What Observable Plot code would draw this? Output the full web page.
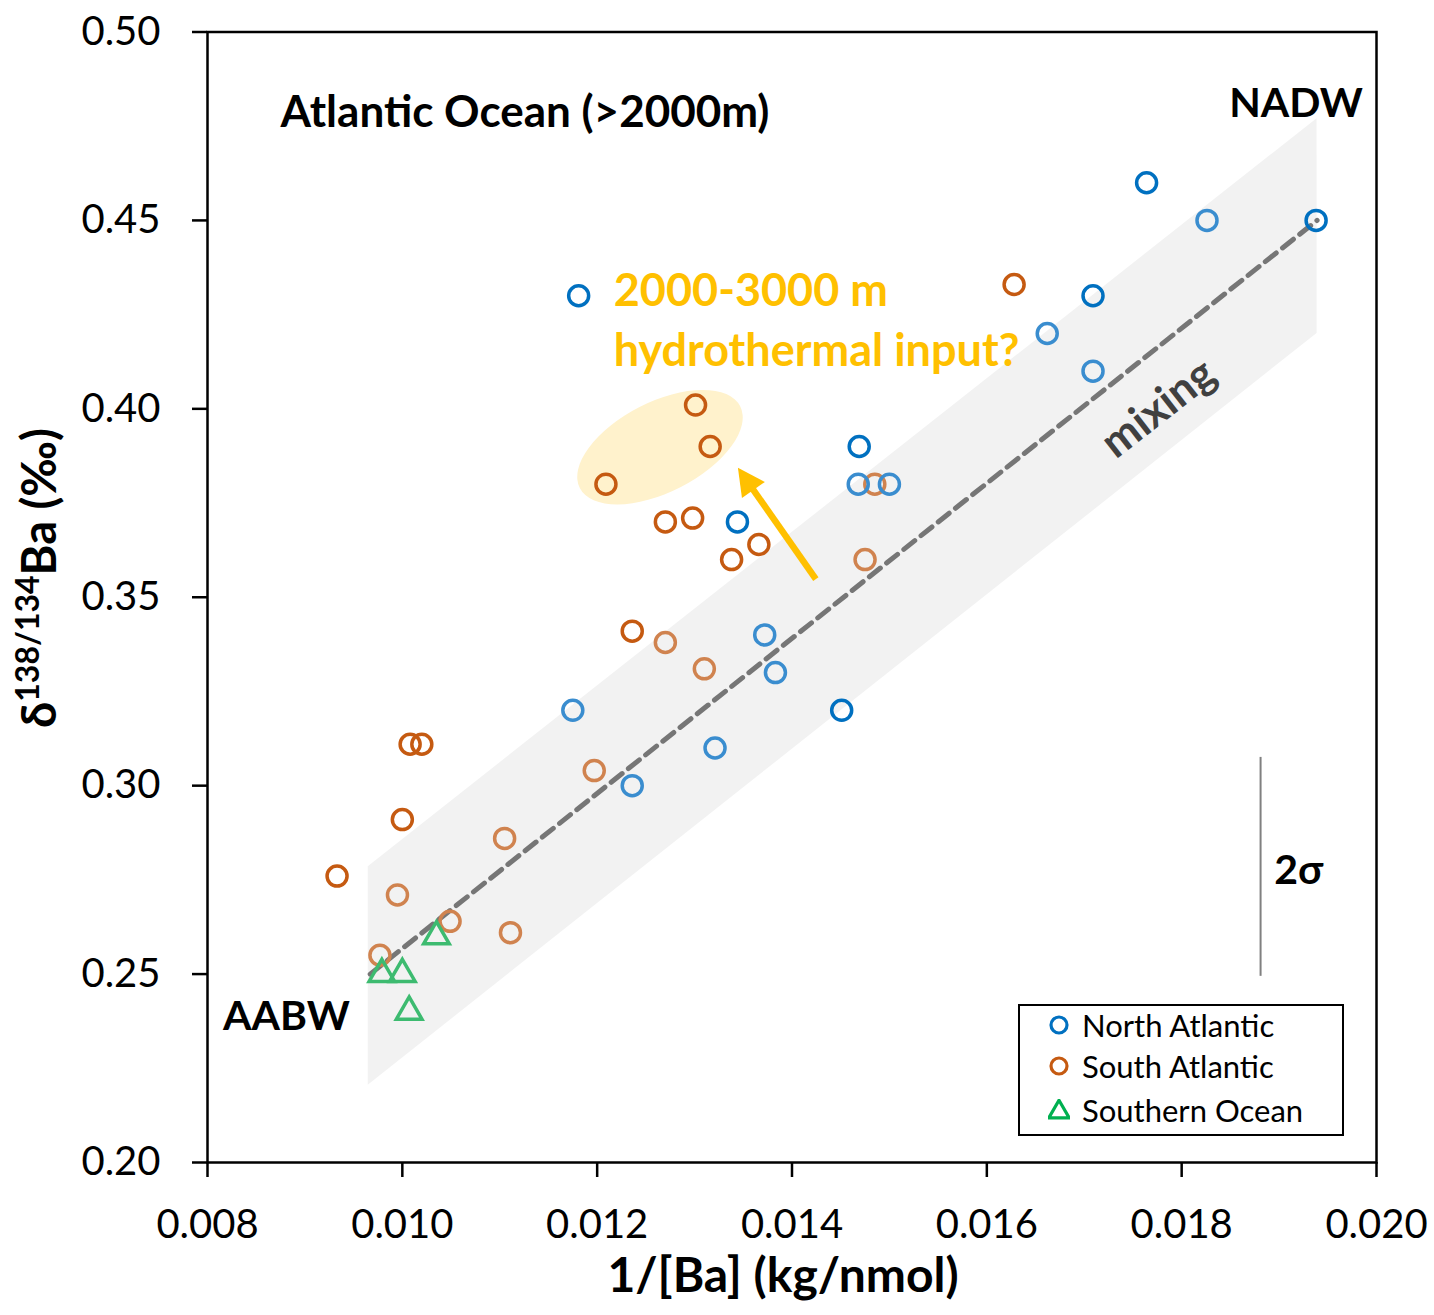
<!DOCTYPE html>
<html><head><meta charset="utf-8">
<script src="https://cdn.jsdelivr.net/npm/d3@7"></script>
<script src="https://cdn.jsdelivr.net/npm/@observablehq/plot@0.6"></script>
<style>
body{margin:0;background:#fff;font-family:Lato,sans-serif}
#wrap{position:relative;width:1434px;height:1315px}
#legend{position:absolute;left:1018px;top:1004px;width:326px;height:132px;border:2px solid #000;background:#fff;box-sizing:border-box;font:31px Lato,sans-serif;color:#000}
#legend .row{position:absolute;left:28px;height:40px;display:flex;align-items:center}
#legend svg{margin-right:12px}
</style></head><body><div id="wrap"></div>
<script>
// North Atlantic
const naX=[0.01764,0.01826,0.01938,0.01709,0.01662,0.01709,0.01181,0.01469,0.01468,0.01500,0.01344,0.01372,0.01383,0.01451,0.01175,0.01321,0.01236];
const naY=[0.460,0.450,0.450,0.430,0.420,0.410,0.430,0.390,0.380,0.380,0.370,0.340,0.330,0.320,0.320,0.310,0.300];
const naTone=["dark","light","dark","dark","light","light","dark","dark","light","light","dark","light","light","dark","light","light","light"];
// South Atlantic
const saX=[0.01628,0.01301,0.01316,0.01209,0.01270,0.01298,0.01366,0.01338,0.01485,0.01475,0.01236,0.01270,0.01310,0.01008,0.01020,0.01197,0.01000,0.01105,0.00933,0.00995,0.01049,0.01111,0.00977];
const saY=[0.433,0.401,0.390,0.380,0.370,0.371,0.364,0.360,0.380,0.360,0.341,0.338,0.331,0.311,0.311,0.304,0.291,0.286,0.276,0.271,0.264,0.261,0.255];
const saTone=["dark","dark","dark","dark","dark","dark","dark","dark","light","light","dark","light","light","dark","dark","light","dark","light","dark","light","light","light","light"];
// Southern Ocean
const soX=[0.00979,0.01000,0.01035,0.01007];
const soY=[0.250,0.250,0.260,0.240];
// mixing line and band
const mixX=[0.00967,0.01939];
const mixY=[0.250,0.450];
const bandX=[0.00965,0.01939];
const bandHi=[0.2785,0.477];
const bandLo=[0.2205,0.420];
// 2 sigma bar
const sigX=[0.01881];
const sigLo=[0.2494];
const sigHi=[0.3075];
// hydrothermal arrow and ellipse
const arrowTail=[0.01425,0.3547];
const arrowTip=[0.01345,0.3842];
const hydroCenter=[0.01265,0.3897];
// ticks
const xTicks=[0.008,0.010,0.012,0.014,0.016,0.018,0.020];
const yTicks=[0.20,0.25,0.30,0.35,0.40,0.45,0.50];
// annotations
const titleNote=[{x:0.00875,y:0.4786,text:"Atlantic Ocean (>2000m)"}];
const endNotes=[{x:0.01986,y:0.4810,text:"NADW"}];
const startNotes=[{x:0.00816,y:0.2387,text:"AABW"},{x:0.01895,y:0.2775,text:"2σ"}];
const hydroNotes=[{x:0.01217,y:0.4311,text:"2000-3000 m"},{x:0.01217,y:0.4152,text:"hydrothermal input?"}];
const mixLabel=[{x:0.017762,y:0.4001,text:"mixing"}];

const na=naX.map((x,i)=>({x,y:naY[i],tone:naTone[i]}));
const sa=saX.map((x,i)=>({x,y:saY[i],tone:saTone[i]}));
const so=soX.map((x,i)=>({x,y:soY[i]}));
const mix=mixX.map((x,i)=>({x,y:mixY[i]}));
const band=bandX.map((x,i)=>({x,lo:bandLo[i],hi:bandHi[i]}));
const sig=sigX.map((x,i)=>({x,lo:sigLo[i],hi:sigHi[i]}));

function hydroEllipse(index, scales){
  const cx=scales.x(hydroCenter[0]), cy=scales.y(hydroCenter[1]);
  return d3.create("svg:ellipse").attr("cx",cx).attr("cy",cy).attr("rx",90).attr("ry",45)
    .attr("transform",`rotate(-27 ${cx} ${cy})`).attr("fill","#FFF2CC").node();
}
function hydroArrow(index, scales){
  const x1=scales.x(arrowTail[0]), y1=scales.y(arrowTail[1]);
  const x2=scales.x(arrowTip[0]), y2=scales.y(arrowTip[1]);
  const dx=x2-x1, dy=y2-y1, L=Math.hypot(dx,dy), ux=dx/L, uy=dy/L;
  const hl=27, hw=14;
  const bx=x2-ux*hl, by=y2-uy*hl;
  const g=d3.create("svg:g");
  g.append("line").attr("x1",x1).attr("y1",y1).attr("x2",bx+ux*2).attr("y2",by+uy*2)
    .attr("stroke","#FFC000").attr("stroke-width",6.5);
  g.append("path").attr("d",`M${x2},${y2}L${bx-uy*hw},${by+ux*hw}L${bx+uy*hw},${by-ux*hw}Z`).attr("fill","#FFC000");
  return g.node();
}

const naColor=d=>d.tone==="dark"?"#0070C0":"#3A8DCF";
const saColor=d=>d.tone==="dark"?"#C55A11":"#D0834F";

const plot=Plot.plot({
  width:1434, height:1315,
  marginLeft:207, marginRight:58, marginTop:31.5, marginBottom:153,
  style:{fontFamily:"Lato, sans-serif", background:"#fff", color:"#000"},
  x:{domain:[0.008,0.020]},
  y:{domain:[0.20,0.50]},
  marks:[
    Plot.areaY(band,{x:"x",y1:"lo",y2:"hi",fill:"#F2F2F2"}),
    hydroEllipse,
    Plot.line(mix,{x:"x",y:"y",stroke:"#767676",strokeWidth:5,strokeDasharray:"14,8"}),
    Plot.ruleX(sig,{x:"x",y1:"lo",y2:"hi",stroke:"#808080",strokeWidth:2}),
    hydroArrow,
    Plot.dot(sa,{x:"x",y:"y",r:10,stroke:saColor,strokeWidth:3.5,fill:"none"}),
    Plot.dot(na,{x:"x",y:"y",r:10,stroke:naColor,strokeWidth:3.5,fill:"none"}),
    Plot.dot(so,{x:"x",y:"y",r:9.5,symbol:"triangle",stroke:"#3DBB70",strokeWidth:3.5,fill:"none"}),
    Plot.text(titleNote,{x:"x",y:"y",text:"text",textAnchor:"start",fill:"#000",fontSize:44,fontWeight:"bold"}),
    Plot.text(endNotes,{x:"x",y:"y",text:"text",textAnchor:"end",fill:"#000",fontSize:41,fontWeight:"bold"}),
    Plot.text(startNotes,{x:"x",y:"y",text:"text",textAnchor:"start",fill:"#000",fontSize:41,fontWeight:"bold"}),
    Plot.text(hydroNotes,{x:"x",y:"y",text:"text",textAnchor:"start",fill:"#FFC000",fontSize:45,fontWeight:"bold"}),
    Plot.text(mixLabel,{x:"x",y:"y",text:"text",rotate:-38,fill:"#404040",fontSize:44,fontWeight:"bold"}),
    Plot.frame({stroke:"#000",strokeWidth:2.5}),
    Plot.axisX(xTicks,{tickSize:15,tickPadding:32,strokeWidth:2.5,fontSize:40,tickFormat:d3.format(".3f"),label:null}),
    Plot.axisY(yTicks,{tickSize:15,tickPadding:32,strokeWidth:2.5,fontSize:40,tickFormat:d3.format(".2f"),label:null}),
    Plot.text(["1/[Ba] (kg/nmol)"],{frameAnchor:"bottom",dx:-9,dy:129,fontSize:48,fontWeight:"bold"})
  ]
});
document.getElementById("wrap").appendChild(plot);

// y-axis label with superscript
const svg=d3.select(plot);
const yl=svg.append("text").attr("transform","translate(56,578) rotate(-90)")
  .attr("text-anchor","middle").attr("font-size",47).attr("font-weight","bold").attr("fill","#000")
  .style("font-family","Lato, sans-serif");
yl.append("tspan").text("δ");
yl.append("tspan").attr("font-size",32).attr("dy",-17).text("138/134");
yl.append("tspan").attr("dy",17).text("Ba (‰)");

// legend
const legendItems=[{label:"North Atlantic",color:"#0070C0",shape:"circle"},{label:"South Atlantic",color:"#C55A11",shape:"circle"},{label:"Southern Ocean",color:"#00B050",shape:"triangle"}];
const leg=document.createElement("div"); leg.id="legend";
const rowTops=[-1,40,84];
legendItems.forEach((it,i)=>{
  const row=document.createElement("div"); row.className="row"; row.style.top=rowTops[i]+"px";
  const s=d3.create("svg").attr("width",22).attr("height",22);
  if(it.shape==="circle") s.append("circle").attr("cx",11).attr("cy",11).attr("r",8).attr("fill","none").attr("stroke",it.color).attr("stroke-width",3.2);
  else s.append("path").attr("d",d3.symbol(d3.symbolTriangle,180)()).attr("transform","translate(11,13)").attr("fill","none").attr("stroke",it.color).attr("stroke-width",3.2);
  row.appendChild(s.node());
  const t=document.createElement("span"); t.textContent=it.label; row.appendChild(t);
  leg.appendChild(row);
});
document.getElementById("wrap").appendChild(leg);
</script></body></html>
